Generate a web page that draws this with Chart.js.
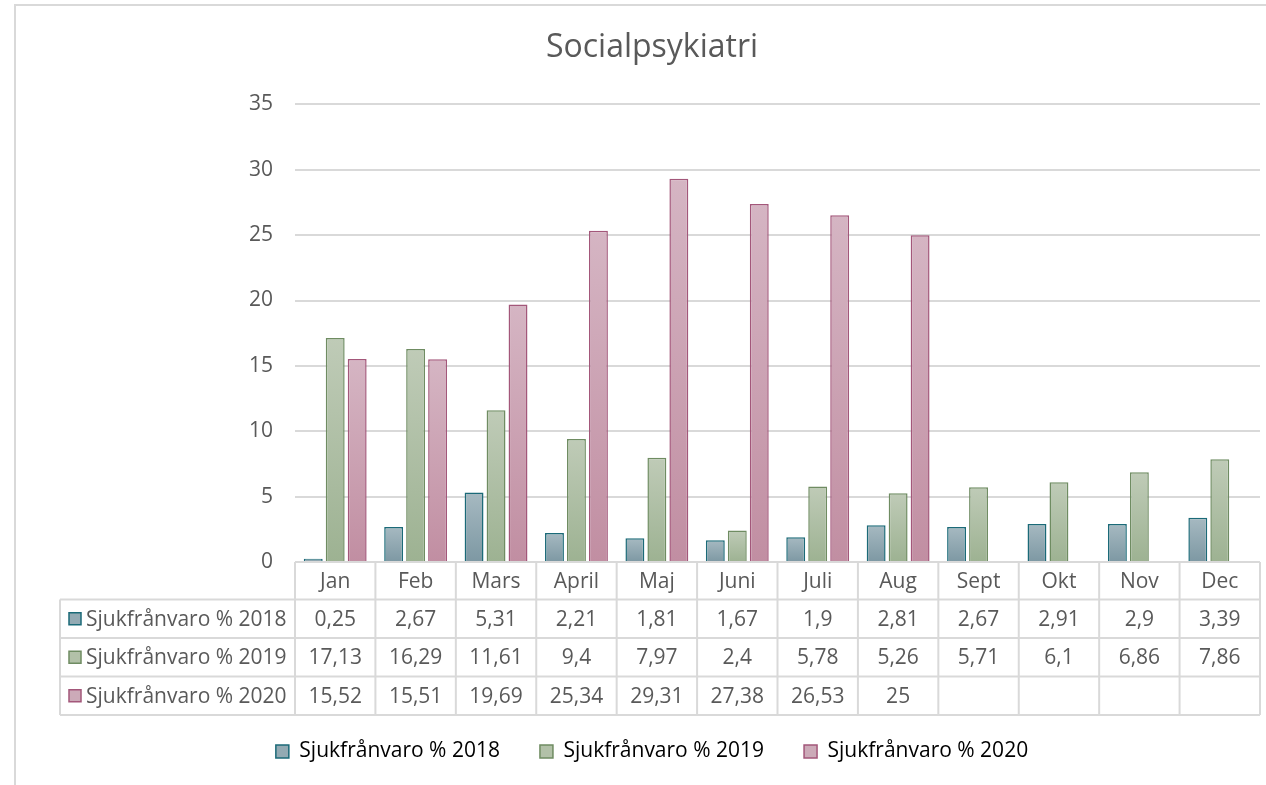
<!DOCTYPE html>
<html>
<head>
<meta charset="utf-8">
<script src="https://cdn.jsdelivr.net/npm/chart.js@4/dist/chart.umd.min.js"></script>
<style>
  html, body { margin: 0; padding: 0; background: #fff; }
  #wrap { position: relative; width: 1266px; height: 785px; }
  #frame { position: absolute; left: 14px; top: 4px; right: 0; bottom: 0;
           border-top: 2px solid #d9d9d9; border-left: 2px solid #d9d9d9; }
  canvas { position: absolute; left: 0; top: 0; }
</style>
</head>
<body>
<div id="wrap">
  <div id="frame"></div>
  <canvas id="chart" width="1266" height="785"></canvas>
</div>
<script>
"use strict";

// ── Data ─────────────────────────────────────────────────────────────────────
const months = ["Jan","Feb","Mars","April","Maj","Juni","Juli","Aug","Sept","Okt","Nov","Dec"];
const seriesNames = ["Sjukfrånvaro % 2018", "Sjukfrånvaro % 2019", "Sjukfrånvaro % 2020"];
const values2018 = [0.25, 2.67, 5.31, 2.21, 1.81, 1.67, 1.9, 2.81, 2.67, 2.91, 2.9, 3.39];
const values2019 = [17.13, 16.29, 11.61, 9.4, 7.97, 2.4, 5.78, 5.26, 5.71, 6.1, 6.86, 7.86];
const values2020 = [15.52, 15.51, 19.69, 25.34, 29.31, 27.38, 26.53, 25, null, null, null, null];
const yTicks = [0, 5, 10, 15, 20, 25, 30, 35];

// ── Look ─────────────────────────────────────────────────────────────────────
const FONT = "'Open Sans', Lato, sans-serif";
const TXT  = "#595959";
const GRID = "#d9d9d9";
const STYLE = [
  { top: "#a6b9c1", bot: "#7d98a3", border: "#1b6a78", box: "#93aab3" },
  { top: "#bfcbb7", bot: "#9db292", border: "#6f8c62", box: "#b2c1a8" },
  { top: "#d5b5c3", bot: "#c18ea2", border: "#a3577a", box: "#ccaab8" },
];

function barGradient(i) {
  return (ctx) => {
    const chart = ctx.chart;
    const y = chart.scales.y;
    if (!chart.chartArea || !y || ctx.raw == null) return STYLE[i].bot;
    const yTop = y.getPixelForValue(ctx.raw);
    const yBot = y.getPixelForValue(0);
    if (!isFinite(yTop) || Math.abs(yBot - yTop) < 1) return STYLE[i].bot;
    const g = chart.ctx.createLinearGradient(0, yTop, 0, yBot);
    g.addColorStop(0, STYLE[i].top);
    g.addColorStop(1, STYLE[i].bot);
    return g;
  };
}

const allValues = [values2018, values2019, values2020];

// ── Data table under the plot ───────────────────────────────────────────────
const TABLE = { left: 60, header: 37.5, row: 38.5 };

const dataTable = {
  id: "dataTable",
  afterDraw(chart) {
    const { ctx, chartArea, scales } = chart;
    const x = scales.x;
    const top = chartArea.bottom;
    const colW = (chartArea.right - chartArea.left) / months.length;
    const rowsTop = top + TABLE.header;
    const bottom = rowsTop + TABLE.row * allValues.length;

    ctx.save();
    ctx.strokeStyle = GRID;
    ctx.lineWidth = 2;
    ctx.beginPath();
    // header row top
    ctx.moveTo(chartArea.left, top); ctx.lineTo(chartArea.right, top);
    // data rows
    for (let r = 0; r <= allValues.length; r++) {
      const yy = rowsTop + r * TABLE.row;
      ctx.moveTo(TABLE.left, yy); ctx.lineTo(chartArea.right, yy);
    }
    // verticals
    ctx.moveTo(TABLE.left, rowsTop); ctx.lineTo(TABLE.left, bottom);
    for (let c = 0; c <= months.length; c++) {
      const xx = chartArea.left + c * colW;
      ctx.moveTo(xx, top); ctx.lineTo(xx, bottom);
    }
    ctx.stroke();

    ctx.fillStyle = TXT;
    ctx.font = "21px " + FONT;
    ctx.textAlign = "center";
    ctx.textBaseline = "middle";
    months.forEach((m, i) => {
      const cx = x.getPixelForTick(i);
      ctx.fillText(m, cx, top + TABLE.header / 2 + 1);
      allValues.forEach((vals, r) => {
        if (vals[i] == null) return;
        const txt = String(vals[i]).replace(".", ",");
        ctx.fillText(txt, cx, rowsTop + r * TABLE.row + TABLE.row / 2 + 1);
      });
    });

    ctx.textAlign = "left";
    seriesNames.forEach((name, r) => {
      const cy = rowsTop + r * TABLE.row + TABLE.row / 2;
      ctx.fillStyle = STYLE[r].box;
      ctx.fillRect(69, cy - 6, 12, 12);
      ctx.strokeStyle = STYLE[r].border;
      ctx.lineWidth = 1.5;
      ctx.strokeRect(69, cy - 6, 12, 12);
      ctx.fillStyle = TXT;
      ctx.fillText(name, 86, cy + 1);
    });
    ctx.restore();
  }
};

// ── Chart ────────────────────────────────────────────────────────────────────
Chart.defaults.font.family = FONT;
Chart.defaults.color = TXT;

const PAD_LEFT = 44;

new Chart(document.getElementById("chart"), {
  type: "bar",
  data: {
    labels: months,
    datasets: allValues.map((vals, i) => ({
      label: seriesNames[i],
      data: vals,
      backgroundColor: barGradient(i),
      borderColor: STYLE[i].border,
      borderWidth: 1.5,
      borderSkipped: "bottom",
      categoryPercentage: 0.82,
      barPercentage: 0.86,
    })),
  },
  options: {
    responsive: false,
    animation: false,
    layout: { padding: { left: PAD_LEFT, right: 6, top: 0, bottom: 13 } },
    scales: {
      x: {
        grid: { display: false },
        border: { display: false },
        ticks: { display: false },
        afterFit: (s) => { s.height = 139; },
      },
      y: {
        min: 0,
        max: 35,
        afterBuildTicks: (s) => { s.ticks = yTicks.map(v => ({ value: v })); },
        grid: { color: GRID, lineWidth: 2, drawTicks: false },
        border: { display: false },
        ticks: { color: TXT, font: { size: 21 }, padding: 22 },
        afterFit: (s) => { s.width = 295 - PAD_LEFT; },
      },
    },
    plugins: {
      title: {
        display: true,
        text: "Socialpsykiatri",
        color: TXT,
        font: { size: 32, weight: "normal" },
        padding: { top: 29, bottom: 37 },
      },
      legend: {
        position: "bottom",
        labels: {
          color: TXT,
          font: { size: 21 },
          boxWidth: 13,
          boxHeight: 13,
          padding: 40,
          generateLabels: () => seriesNames.map((n, i) => ({
            text: n,
            fillStyle: STYLE[i].box,
            strokeStyle: STYLE[i].border,
            lineWidth: 1.5,
            datasetIndex: i,
          })),
        },
      },
      tooltip: { enabled: false },
    },
  },
  plugins: [dataTable],
});
</script>
</body>
</html>
